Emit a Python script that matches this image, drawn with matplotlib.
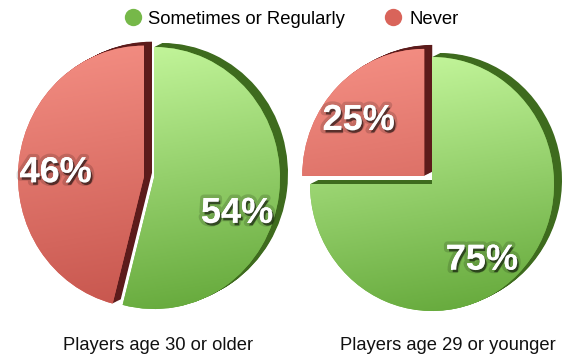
import numpy as np
import matplotlib
matplotlib.use("Agg")
import matplotlib.pyplot as plt
import matplotlib.patches as mpatches
import matplotlib.patheffects as pe
from matplotlib.colors import LinearSegmentedColormap
from matplotlib.lines import Line2D
from matplotlib.transforms import ScaledTranslation

# ---- data -------------------------------------------------------------
categories = ["Sometimes or Regularly", "Never"]
groups = ["Players age 30 or older", "Players age 29 or younger"]
shares_30_plus = [54, 46]
shares_29_minus = [75, 25]

# ---- style ------------------------------------------------------------
W, H, DPI = 565, 355, 100
FONT = "Liberation Sans"
legend_colors = ["#76b849", "#d9645a"]
face_top = ["#c6f89e", "#f38d82"]
face_bottom = ["#64a83a", "#c4524a"]
side_colors = ["#3e6b1e", "#5c1b1b"]

fig = plt.figure(figsize=(W / DPI, H / DPI), dpi=DPI)
fig.patch.set_facecolor("white")

L = 1.15  # axes half-size in pie radii


def pie_axes(cx, cy, rx, ry):
    return fig.add_axes([(cx - L * rx) / W, 1 - (cy + L * ry) / H,
                         2 * L * rx / W, 2 * L * ry / H])


def draw_pie(ax, values, explode, label_pos, depth=(8, 4), nsteps=10):
    wedges, _ = ax.pie(values, colors=legend_colors, startangle=90,
                       counterclock=False, explode=explode,
                       wedgeprops=dict(linewidth=0))
    yy, xx = np.mgrid[1.2:-1.2:300j, -1.2:1.2:300j]
    t = np.clip((1.0 - (yy * 0.9 - xx * 0.15)) / 2.0, 0, 1)
    for i, w in enumerate(wedges):
        w.set_zorder(3)
        # extruded side of the slice
        for k in range(1, nsteps + 1):
            off = ScaledTranslation(depth[0] * k / nsteps / DPI,
                                    depth[1] * k / nsteps / DPI,
                                    fig.dpi_scale_trans)
            side = mpatches.Wedge(w.center, w.r, w.theta1, w.theta2,
                                  facecolor=side_colors[i], linewidth=0,
                                  transform=ax.transData + off, zorder=1)
            ax.add_patch(side)
        # shaded top face
        cmap = LinearSegmentedColormap.from_list(
            "f%d" % i, [face_top[i], face_bottom[i]])
        im = ax.imshow(t, cmap=cmap, vmin=0, vmax=1,
                       extent=(-1.2, 1.2, -1.2, 1.2), aspect="auto",
                       interpolation="bilinear", zorder=4)
        im.set_clip_path(w)
    for v, (x, y) in zip(values, label_pos):
        ax.text(x, y, f"{v}%", color="white", fontsize=26,
                fontweight="bold", family=FONT, ha="center", va="center",
                zorder=6,
                path_effects=[pe.withStroke(linewidth=5,
                                            foreground=(0, 0, 0, 0.15)),
                              pe.SimplePatchShadow(offset=(1.2, -1.8),
                                                   shadow_rgbFace="black",
                                                   alpha=0.55),
                              pe.Normal()])
    ax.set_xlim(-L, L)
    ax.set_ylim(-L, L)
    ax.set_aspect("auto")
    ax.axis("off")


ax1 = pie_axes(154, 178, 126, 131)
draw_pie(ax1, shares_30_plus, [0, 0.08],
         [(0.66, -0.27), (-0.78, 0.04)])

ax2 = pie_axes(432, 184, 122, 127)
draw_pie(ax2, shares_29_minus, [0, 0.09],
         [(0.41, -0.6), (-0.6, 0.5)])

# group captions
fig.text(158 / W, 1 - 346 / H, groups[0], ha="center", va="center",
         fontsize=13.2, family=FONT, color="#111111")
fig.text(448 / W, 1 - 346 / H, groups[1], ha="center", va="center",
         fontsize=13.2, family=FONT, color="#111111")

# legend
handles = [Line2D([], [], linestyle="none", marker="o", markersize=12.5,
                  markerfacecolor=c, markeredgewidth=0) for c in legend_colors]
fig.legend(handles, categories, loc="center", ncol=2, frameon=False,
           bbox_to_anchor=(290 / W, 1 - 19 / H), handletextpad=0.25,
           columnspacing=2.0, handlelength=1.2,
           prop=dict(family=FONT, size=13.3))

fig.savefig("out.png", dpi=DPI, facecolor="white")
